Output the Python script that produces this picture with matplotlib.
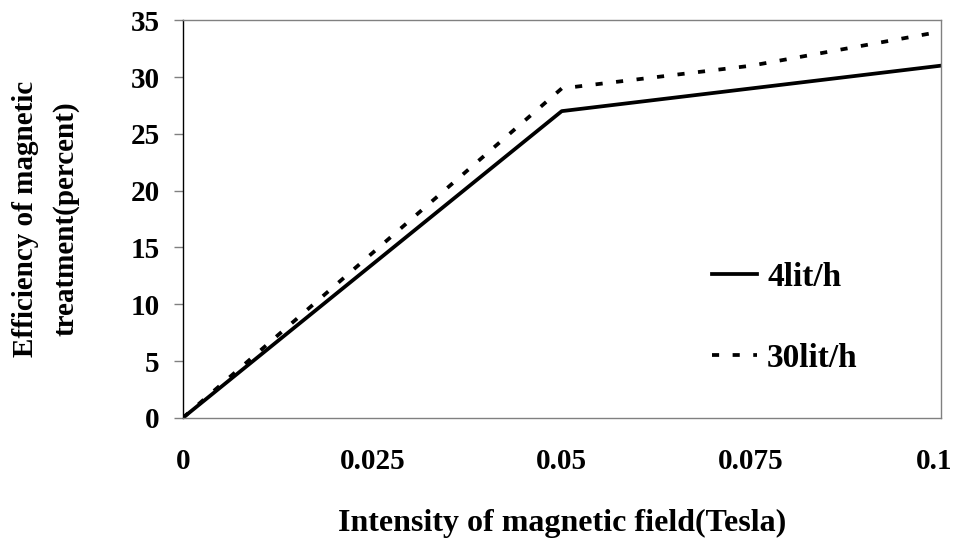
import matplotlib
matplotlib.use('Agg')
import matplotlib.pyplot as plt
import matplotlib.transforms as mtransforms

field = [0, 0.025, 0.05, 0.075, 0.1]
flow_4 = [0, 13.5, 27, 29, 31]
flow_30 = [0, 14.5, 29, 31, 34]
x_ticks = [0, 0.025, 0.05, 0.075, 0.1]
x_labels = ['0', '0.025', '0.05', '0.075', '0.1']
y_ticks = [0, 5, 10, 15, 20, 25, 30, 35]

plt.rcParams['font.family'] = ['Liberation Serif', 'DejaVu Serif']
plt.rcParams['font.weight'] = 'bold'

fig = plt.figure(figsize=(9.57, 5.47), dpi=100)
ax = fig.add_axes([0.191, 0.236, 0.792, 0.727])

ax.plot(field, flow_4, color='black', lw=2.7, label='4lit/h')
ax.plot(field, flow_30, color='black', lw=2.7, linestyle=(0, (1.9, 3.6)), label='30lit/h')

ax.set_xlim(0, 0.1)
ax.set_ylim(0, 35)
ax.set_xticks(x_ticks)
ax.set_xticklabels(x_labels)
ax.set_yticks(y_ticks)

for side in ['top', 'right', 'bottom']:
    ax.spines[side].set_color('#808080')
    ax.spines[side].set_linewidth(1)
ax.spines['left'].set_color('black')
ax.spines['left'].set_linewidth(1)

ax.tick_params(axis='x', length=0, pad=22, labelsize=21)
ax.tick_params(axis='y', length=6.5, width=1, color='#808080', direction='out', pad=10, labelsize=21)
for lab in ax.get_xticklabels() + ax.get_yticklabels():
    lab.set_fontweight('bold')

# last x label sits against the figure edge, nudge it left a bit
last = ax.get_xticklabels()[-1]
last.set_transform(last.get_transform() + mtransforms.ScaledTranslation(-5 / 72, 0, fig.dpi_scale_trans))

ax.set_xlabel('Intensity of magnetic field(Tesla)', fontsize=23, fontweight='bold', labelpad=24)
ax.set_ylabel('Efficiency of magnetic\ntreatment(percent)', fontsize=21, fontweight='bold',
              labelpad=37, linespacing=1.6)

leg = ax.legend(loc='lower right', bbox_to_anchor=(0.93, 0.035), frameon=False,
                prop={'size': 24, 'weight': 'bold'}, handlelength=1.35,
                handletextpad=0.3, labelspacing=1.5)

fig.savefig('out.png', dpi=100)
